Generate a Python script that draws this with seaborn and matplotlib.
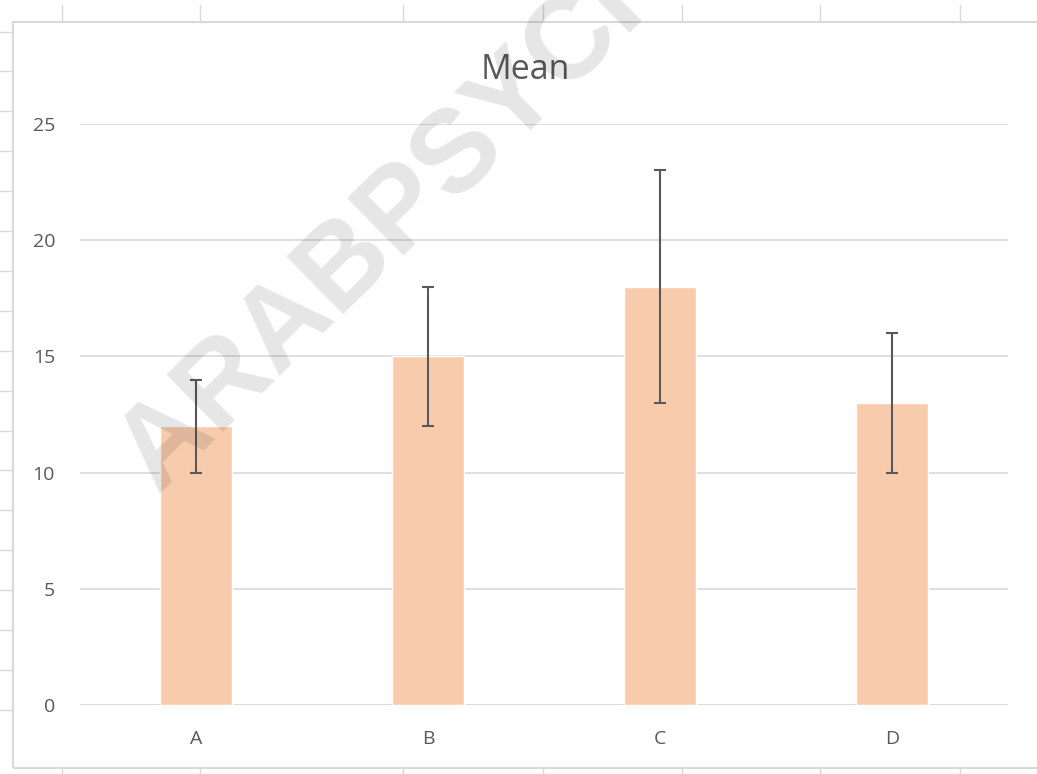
import matplotlib
matplotlib.use("Agg")
import matplotlib.pyplot as plt
from matplotlib.lines import Line2D
from matplotlib.patches import Rectangle
import seaborn as sns
import pandas as pd

# data
groups = ["A", "B", "C", "D"]
means = [12, 15, 18, 13]
errors = [2, 3, 5, 3]
y_ticks = [0, 5, 10, 15, 20, 25]

W, H = 1037, 774
sns.set_theme(style="white")
plt.rcParams["font.family"] = ["Open Sans", "DejaVu Sans"]

fig = plt.figure(figsize=(W / 100, H / 100), dpi=100)
fig.patch.set_facecolor("white")

def px(x, y):
    return x / W, 1 - y / H

# spreadsheet cell lines behind the chart
grid_c = "#D9D9D9"
for cx in [62, 200, 403, 543, 682, 820, 960]:
    fig.add_artist(Line2D([cx / W] * 2, [1 - 5 / H, 1 - 22 / H], color=grid_c, lw=1))
    fig.add_artist(Line2D([cx / W] * 2, [0, 1 - 768 / H], color=grid_c, lw=1))
for k in range(18):
    cy = 31.5 + k * 39.9
    fig.add_artist(Line2D([0, 13 / W], [1 - cy / H] * 2, color=grid_c, lw=1))
# chart area border
fig.add_artist(Rectangle(px(13, 768), (1045 - 13) / W, (768 - 22) / H,
                         fill=False, edgecolor=grid_c, lw=1.5))

# plot area
left, top = px(80, 124)
right, bottom = px(1008, 705)
ax = fig.add_axes([left, bottom, right - left, top - bottom])

df = pd.DataFrame({"group": groups, "mean": means, "err": errors})
sns.barplot(data=df, x="group", y="mean", color="#F8CBAD", width=0.31,
            saturation=1, errorbar=None, ax=ax, zorder=2)
ax.errorbar(range(len(groups)), df["mean"], yerr=df["err"], fmt="none",
            ecolor="#595959", elinewidth=1.5, capsize=4.3, capthick=1.5, zorder=3)

ax.set_xlim(-0.5, len(groups) - 0.5)
ax.set_ylim(0, 25)
ax.set_yticks(y_ticks)
ax.set_xlabel("")
ax.set_ylabel("")
ax.set_facecolor("none")
for s in ax.spines.values():
    s.set_visible(False)
ax.yaxis.grid(True, color=grid_c, lw=1.2, zorder=0)
ax.set_axisbelow(True)
ax.axhline(0, color=grid_c, lw=1.8, zorder=1)
ax.tick_params(axis="both", length=0, labelsize=14, labelcolor="#595959", pad=18)

fig.text(525 / W, 1 - 79 / H, "Mean", ha="center", va="baseline",
         fontsize=24.5, color="#595959")

# watermark
fig.text(157 / W, 1 - 494 / H, "ARABPSYCH", rotation=44.5,
         rotation_mode="anchor", ha="left", va="baseline",
         family=["Liberation Sans", "DejaVu Sans"], fontweight="bold",
         fontsize=84, color="black", alpha=0.1, zorder=10)

fig.savefig("out.png", dpi=100, facecolor="white")
